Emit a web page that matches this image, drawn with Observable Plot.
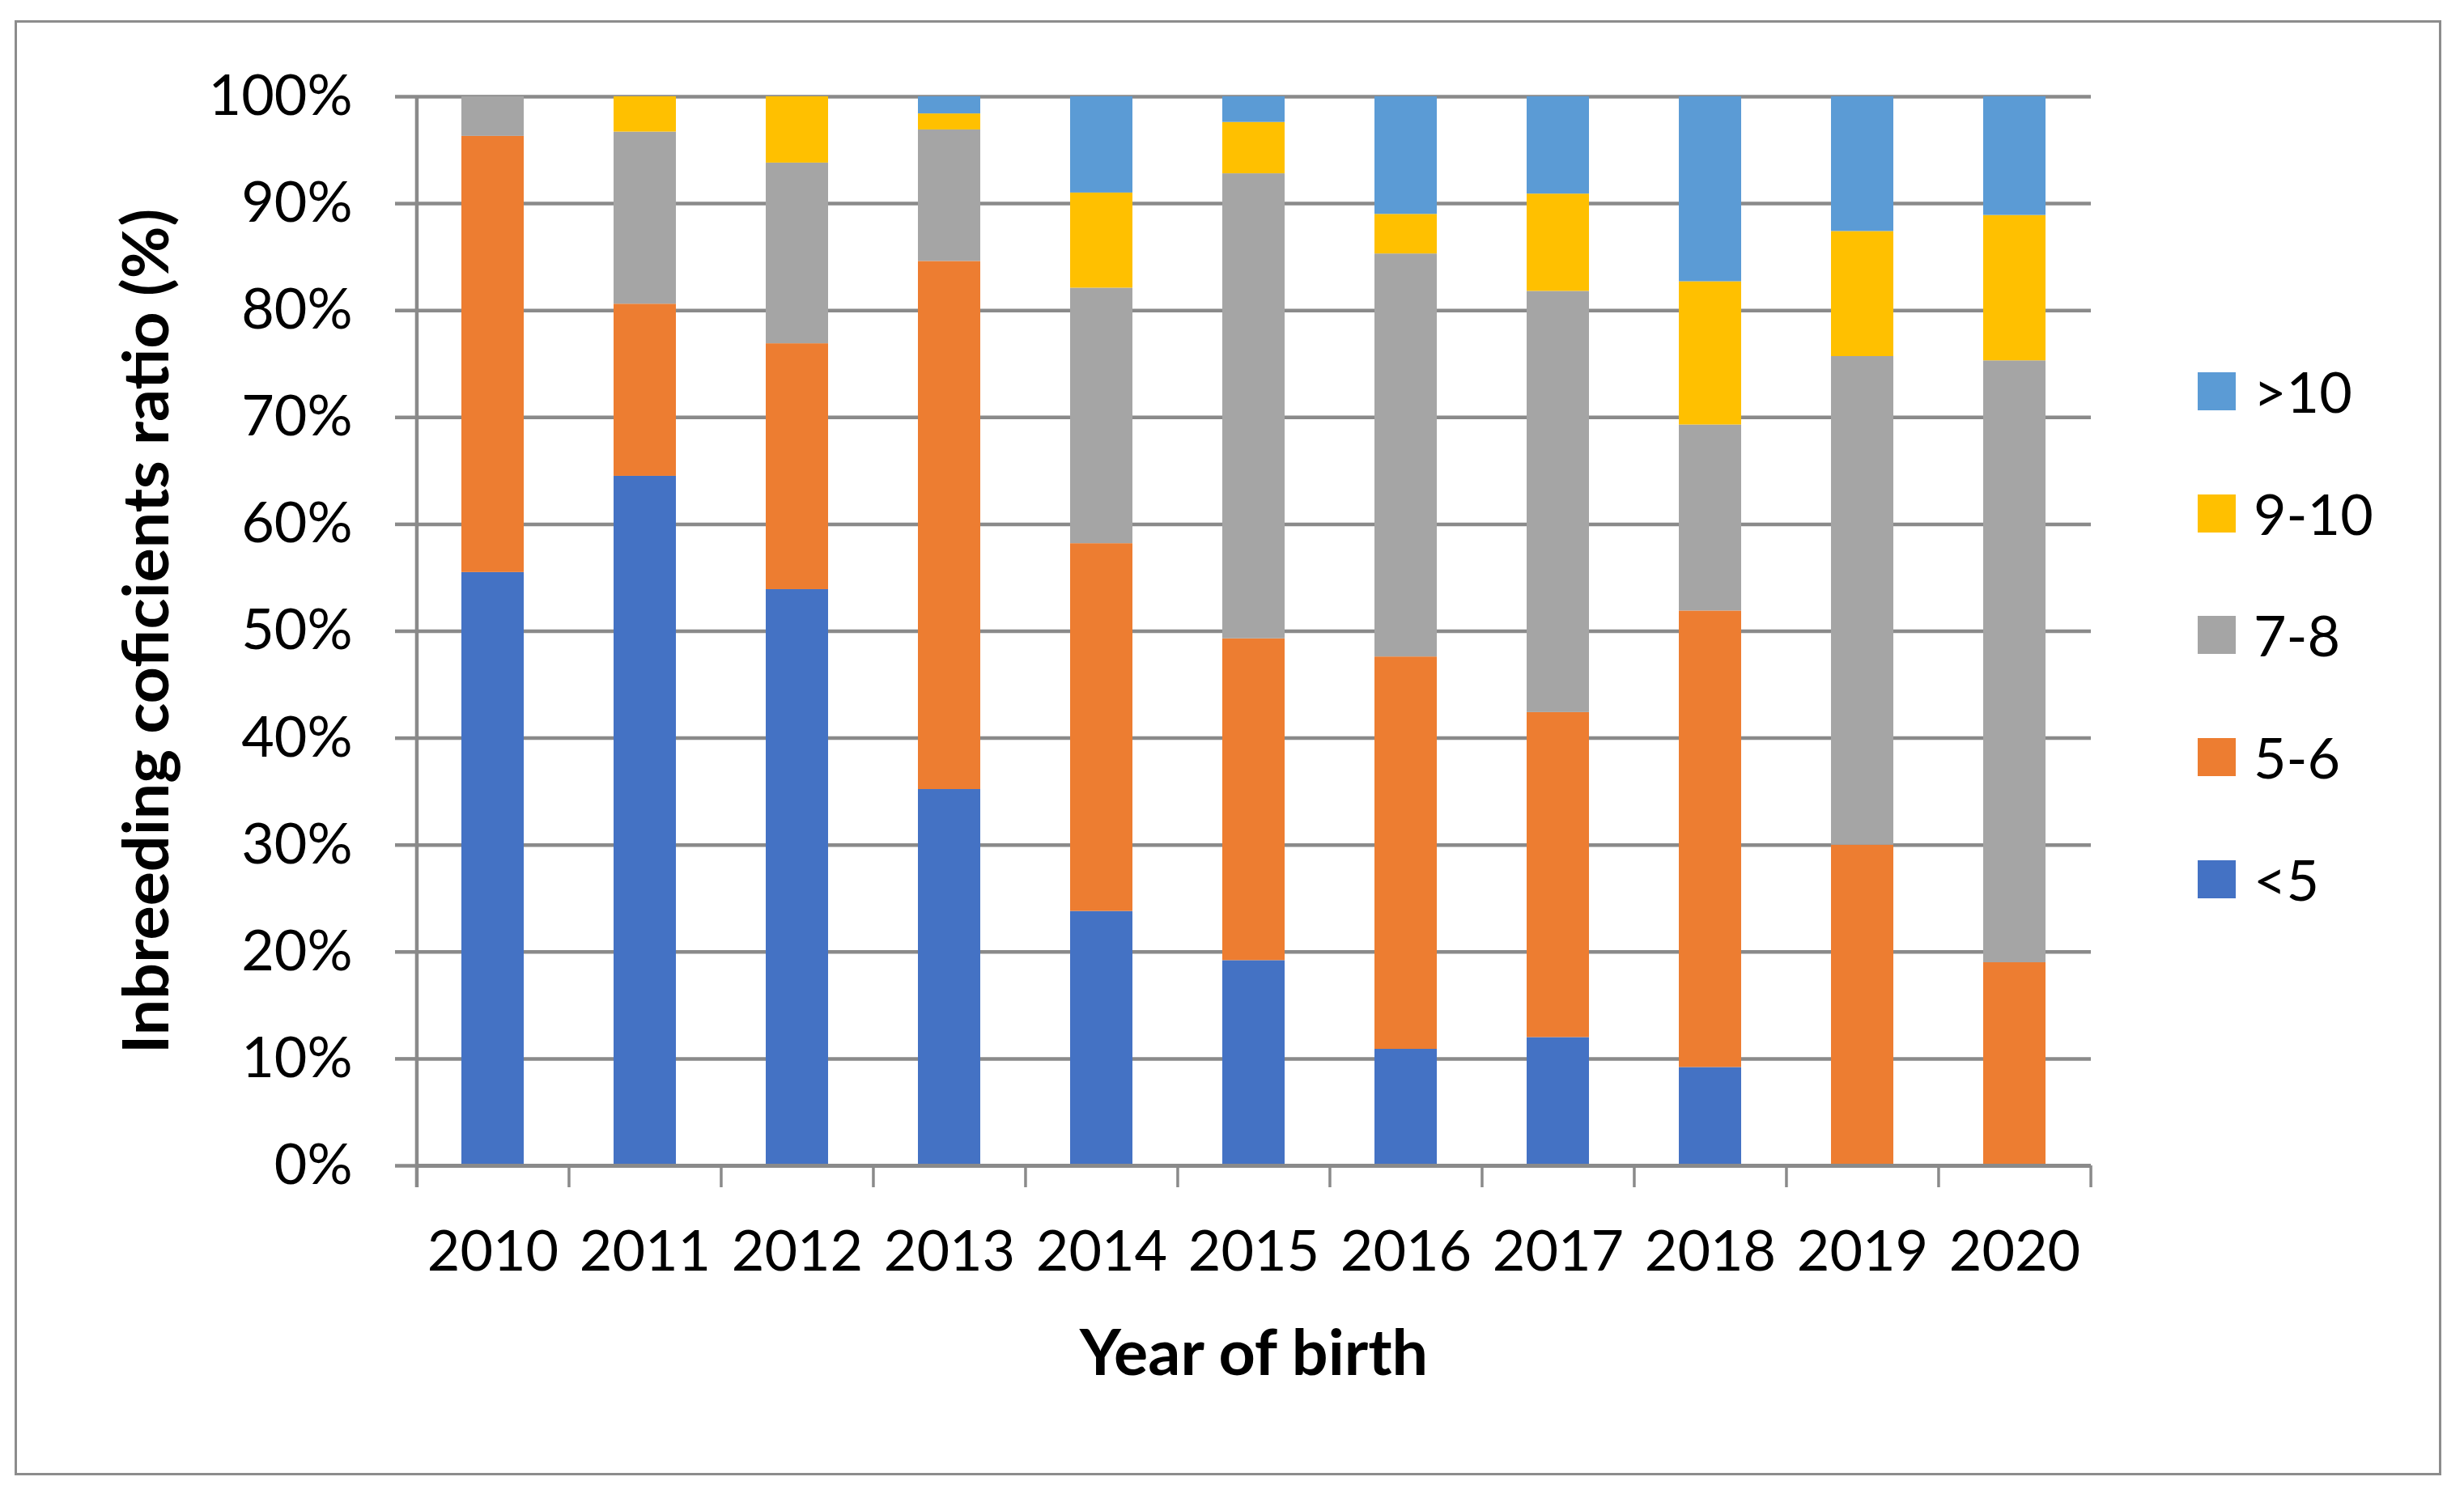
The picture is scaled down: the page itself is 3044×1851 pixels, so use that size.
<!DOCTYPE html>
<html>
<head>
<meta charset="utf-8">
<script src="https://cdn.jsdelivr.net/npm/d3@7"></script>
<script src="https://cdn.jsdelivr.net/npm/@observablehq/plot@0.6"></script>
<style>
  html, body { margin: 0; padding: 0; background: #ffffff; }
  #wrap { position: relative; width: 3044px; height: 1851px; overflow: hidden; font-family: Lato, sans-serif; }
  #border { position: absolute; left: 18px; top: 25px; width: 2998px; height: 1798px; border: 3px solid #8c8c8c; box-sizing: border-box; }
  #chart { position: absolute; left: 0; top: 0; }
  #legend { position: absolute; left: 2715px; top: 0; }
  .item { position: absolute; left: 0; display: flex; align-items: center; white-space: nowrap; height: 70px; }
  .sw { width: 47px; height: 47px; margin-right: 22px; }
  .lb { font-size: 70px; line-height: 70px; color: #000; }
</style>
</head>
<body>
<div id="wrap">
  <div id="border"></div>
  <div id="chart"></div>
  <div id="legend"></div>
</div>
<script>
// ---- data ----
const years = ["2010","2011","2012","2013","2014","2015","2016","2017","2018","2019","2020"];
const seriesNames = ["<5", "5-6", "7-8", "9-10", ">10"];
const seriesColors = ["#4472C4", "#ED7D31", "#A5A5A5", "#FFC000", "#5B9BD5"];
const lt5   = [55.5, 64.5, 53.9, 35.2, 23.8, 19.2, 10.9, 12.0,  9.2,  0.0,  0.0];
const s5_6  = [40.8, 16.1, 23.0, 49.4, 34.4, 30.1, 36.7, 30.4, 42.7, 30.0, 19.0];
const s7_8  = [ 3.7, 16.1, 16.9, 12.3, 23.9, 43.5, 37.7, 39.4, 17.4, 45.7, 56.3];
const s9_10 = [ 0.0,  3.3,  6.2,  1.5,  8.9,  4.8,  3.7,  9.1, 13.4, 11.7, 13.6];
const gt10  = [ 0.0,  0.0,  0.0,  1.6,  9.0,  2.4, 11.0,  9.1, 17.3, 12.6, 11.1];
const yTicks = [0, 10, 20, 30, 40, 50, 60, 70, 80, 90, 100];
const xTitle = "Year of birth";
const yTitle = "Inbreeding coficients ratio (%)";

const seriesValues = [lt5, s5_6, s7_8, s9_10, gt10];
const table = [];
years.forEach((yr, i) => {
  seriesValues.forEach((vals, j) => {
    table.push({year: yr, series: seriesNames[j], value: vals[i]});
  });
});

// ---- layout ----
const W = 3044, H = 1851;
const mL = 514, mR = 461, mT = 119, mB = 411;
const step = (W - mL - mR) / years.length;
const gridColor = "#8a8a8a";

const chart = Plot.plot({
  width: W,
  height: H,
  marginLeft: mL,
  marginRight: mR,
  marginTop: mT,
  marginBottom: mB,
  style: {fontFamily: "Lato, sans-serif", fontSize: "70px", background: "transparent", color: "#000", overflow: "visible"},
  x: {domain: years, paddingInner: 0.59, paddingOuter: 0.295},
  y: {domain: [0, 100]},
  color: {domain: seriesNames, range: seriesColors},
  marks: [
    Plot.ruleY(yTicks, {y: d => d, stroke: gridColor, strokeWidth: 4.5}),
    Plot.axisY({ticks: yTicks, tickSize: 26, tickPadding: 53, tickFormat: d => d + "%",
                stroke: gridColor, strokeWidth: 4.5, fill: "#000", fontSize: 70, label: null}),
    Plot.barY(table, {x: "year", y: "value", z: "series", fill: "series"}),
    // y axis line + category boundary ticks
    Plot.ruleX(years, {x: d => d, y1: d => d === years[0] ? 100 : 0, y2: 0, dx: -step / 2,
                       insetBottom: -27, stroke: gridColor, strokeWidth: d => d === years[0] ? 4.5 : 3.5}),
    Plot.ruleX([years[years.length - 1]], {x: d => d, y1: 0, y2: 0, dx: step / 2,
                       insetBottom: -27, stroke: gridColor, strokeWidth: 3.5}),
    Plot.ruleY([0], {y: d => d, stroke: gridColor, strokeWidth: 5}),
    Plot.axisX({tickSize: 0, tickPadding: 80, fontSize: 70, fill: "#000", label: null}),
    Plot.text([xTitle], {text: d => d, frameAnchor: "bottom", dy: 233, fontWeight: "bold",
                         fontSize: 79, lineAnchor: "middle", textAnchor: "middle", fill: "#000"}),
    Plot.text([yTitle], {text: d => d, frameAnchor: "left", dx: -332, rotate: -90, fontWeight: "bold",
                         fontSize: 79, lineAnchor: "middle", textAnchor: "middle", fill: "#000"})
  ]
});
document.getElementById("chart").appendChild(chart);

// ---- legend (top to bottom: reverse of stack order) ----
const legend = document.getElementById("legend");
const legendCenters = [483, 634, 784, 935, 1086];
const order = seriesNames.map((_, i) => i).reverse();
order.forEach((si, k) => {
  const item = document.createElement("div");
  item.className = "item";
  item.style.top = (legendCenters[k] - 35) + "px";
  const sw = document.createElement("div");
  sw.className = "sw";
  sw.style.background = seriesColors[si];
  const lb = document.createElement("span");
  lb.className = "lb";
  lb.textContent = seriesNames[si];
  item.appendChild(sw);
  item.appendChild(lb);
  legend.appendChild(item);
});
</script>
</body>
</html>
